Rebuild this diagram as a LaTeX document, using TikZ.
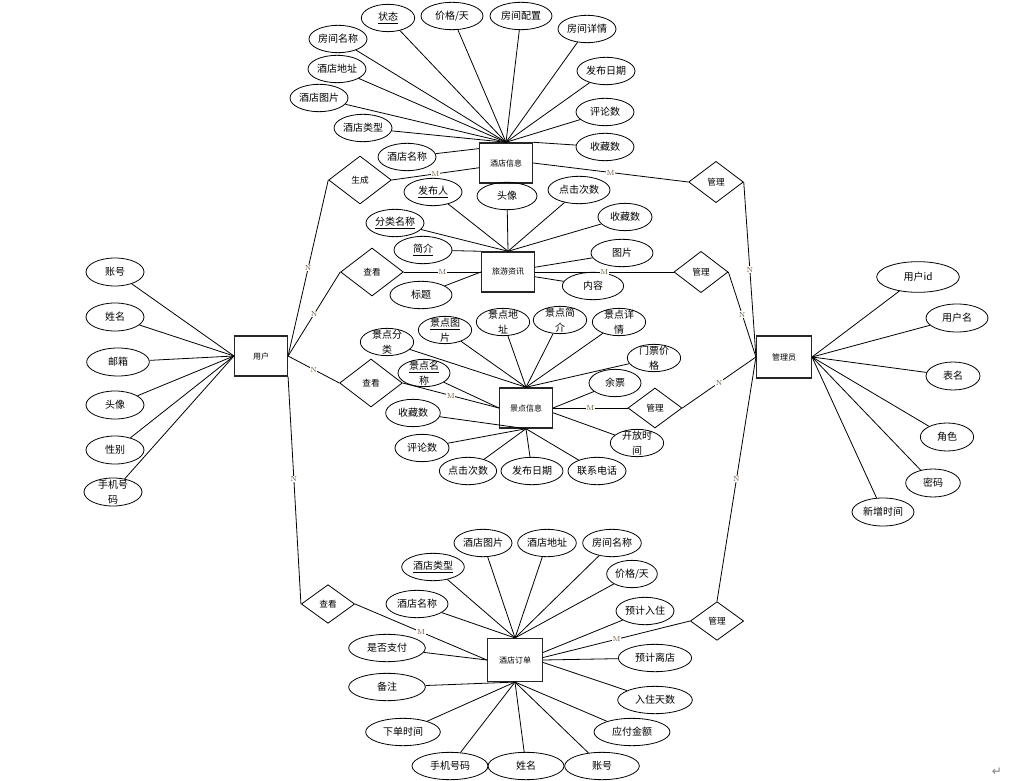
\documentclass[tikz,border=0pt]{standalone}
\usepackage{fontspec}
\newfontfamily\cjk{Noto Sans CJK SC}
\newfontfamily\djv{DejaVu Sans}
\usetikzlibrary{shapes.geometric}
\definecolor{cardc}{RGB}{110,85,55}
\tikzset{
  attr/.style={ellipse, draw, line width=0.6pt, minimum height=20.5pt, minimum width=43.5pt, inner sep=0pt, font=\cjk\fontsize{7.5}{9.5}\selectfont, align=center},
  two/.style={inner ysep=-4.5pt, font=\cjk\fontsize{7.5}{11.5}\selectfont},
  ent/.style={rectangle, draw=black!85, line width=1.1pt, minimum width=39.5pt, minimum height=30pt, inner sep=0pt, font=\cjk\fontsize{6}{7}\selectfont},
  rel/.style={diamond, draw, line width=0.6pt, minimum width=47pt, minimum height=36pt, inner sep=0pt, font=\cjk\fontsize{6.5}{7}\selectfont},
  link/.style={line width=0.6pt},
  card/.style={font=\fontsize{5.5}{6}\selectfont, text=cardc, fill=white, inner sep=0.4pt},
}
\begin{document}
\begin{tikzpicture}[x=0.75pt,y=-0.75pt]
\useasboundingbox (0,0) rectangle (1036,781);

% ---------- entities ----------
\node[ent] (hotel) at (506,163) {酒店信息};
\node[ent] (travel) at (508,272) {旅游资讯};
\node[ent] (spot) at (526,408) {景点信息};
\node[ent, minimum width=41pt, minimum height=32pt] (order) at (515,660) {酒店订单};
\node[ent] (user) at (261,356) {用户};
\node[ent, minimum width=41pt, minimum height=31.5pt] (admin) at (784,357) {管理员};

% ---------- relationships ----------
\node[rel] (gen) at (360,180) {生成};
\node[rel] (ck1) at (372,272) {查看};
\node[rel] (ck2) at (371,383) {查看};
\node[rel, minimum width=40pt, minimum height=29pt] (ck3) at (328,604) {查看};
\node[rel, minimum width=41pt, minimum height=31pt] (gl1) at (716,182) {管理};
\node[rel, minimum width=40.5pt, minimum height=31pt] (gl2) at (701,272) {管理};
\node[rel, minimum width=40.5pt, minimum height=30pt] (gl3) at (655,408) {管理};
\node[rel, minimum width=40pt, minimum height=29pt] (gl4) at (717,621) {管理};

% ---------- hotel attributes ----------
\node[attr, minimum width=40pt] (hzt) at (388,18) {\underline{状态}};
\node[attr, minimum width=46.5pt] (hjg) at (452,16) {价格/天};
\node[attr, minimum width=46.5pt] (hpz) at (521,16) {房间配置};
\node[attr] (hxq) at (587,29) {房间详情};
\node[attr] (hrq) at (606,71) {发布日期};
\node[attr] (hpl) at (605,112) {评论数};
\node[attr] (hsc) at (605,147) {收藏数};
\node[attr] (hmc) at (338,39) {房间名称};
\node[attr] (hdz) at (337,69) {酒店地址};
\node[attr] (htp) at (319,98) {酒店图片};
\node[attr] (hlx) at (363,128) {酒店类型};
\node[attr] (hnm) at (407,157) {酒店名称};

% ---------- travel attributes ----------
\node[attr] (tfb) at (433,192) {\underline{发布人}};
\node[attr, minimum width=45pt] (ttx) at (507,196) {头像};
\node[attr, minimum width=46.5pt] (tdj) at (579,190) {点击次数};
\node[attr, minimum width=40.5pt] (tsc) at (625,217) {收藏数};
\node[attr] (tfl) at (395,223) {\underline{分类名称}};
\node[attr] (tjj) at (423,250) {\underline{简介}};
\node[attr, minimum width=46.5pt] (tbt) at (421,295) {标题};
\node[attr, minimum width=46.5pt] (ttp) at (622,253) {图片};
\node[attr, minimum width=46pt] (tnr) at (593,286) {内容};

% ---------- spot attributes ----------
\node[attr, two, minimum width=40pt] (stp) at (445,330) {\underline{景点图}\\片};
\node[attr, two, minimum width=40pt] (sdz) at (503,322) {景点地\\址};
\node[attr, two, minimum width=40pt] (sjj) at (560,320) {景点简\\介};
\node[attr, two, minimum width=40pt] (sxq) at (619,322) {景点详\\情};
\node[attr, two, minimum width=40pt] (sjg) at (654,358) {门票价\\格};
\node[attr, minimum width=39pt] (syp) at (615,383) {余票};
\node[attr, two, minimum width=40pt] (skf) at (637,443) {开放时\\间};
\node[attr] (sdh) at (597,471) {联系电话};
\node[attr, minimum width=46.5pt] (srq) at (532,471) {发布日期};
\node[attr, minimum width=43pt] (sdj) at (468,471) {点击次数};
\node[attr, minimum width=40.5pt] (spl) at (422,448) {评论数};
\node[attr, minimum width=41pt] (ssc) at (413,413) {收藏数};
\node[attr, two, minimum width=40pt] (sfl) at (387,342) {景点分\\类};
\node[attr, two, minimum width=39pt] (smc) at (424,373) {\underline{景点名}\\称};

% ---------- order attributes ----------
\node[attr] (otp) at (483,543) {酒店图片};
\node[attr, minimum width=44pt] (odz) at (547,543) {酒店地址};
\node[attr, minimum width=44pt] (ofm) at (612,543) {房间名称};
\node[attr, minimum width=38pt] (ojg) at (632,574) {价格/天};
\node[attr] (orz) at (645,611) {预计入住};
\node[attr, minimum width=55pt] (old) at (655,658) {预计离店};
\node[attr, minimum width=56pt] (ots) at (655,700) {入住天数};
\node[attr, minimum width=57pt] (oje) at (632,732) {应付金额};
\node[attr, minimum width=56pt] (ozh) at (602,766) {账号};
\node[attr, minimum width=57pt] (oxm) at (526,766) {姓名};
\node[attr, minimum width=57pt] (osj) at (450,766) {手机号码};
\node[attr, minimum width=56pt] (oxd) at (403,732) {下单时间};
\node[attr, minimum width=57.5pt] (obz) at (387,687) {备注};
\node[attr, minimum width=57.5pt] (ozf) at (387,648) {是否支付};
\node[attr, minimum width=46.5pt] (onm) at (417,604) {酒店名称};
\node[attr, minimum width=47pt] (olx) at (433,567) {\underline{酒店类型}};

% ---------- user attributes ----------
\node[attr, minimum height=21pt] (uzh) at (115,272) {账号};
\node[attr, minimum height=21pt] (uxm) at (115,317) {姓名};
\node[attr, minimum height=21pt, minimum width=47pt] (uyx) at (118,362) {邮箱};
\node[attr, minimum height=21pt] (utx) at (115,405) {头像};
\node[attr, minimum height=21pt] (uxb) at (115,450) {性别};
\node[attr, two, minimum height=21pt] (usj) at (113,492) {手机号\\码};

% ---------- admin attributes ----------
\node[attr, minimum width=62pt, minimum height=23pt] (aid) at (918,277) {用户id};
\node[attr, minimum width=46.5pt, minimum height=21pt] (amc) at (957,318) {用户名};
\node[attr, minimum width=40.5pt, minimum height=21pt] (abm) at (953,376) {表名};
\node[attr, minimum width=40pt, minimum height=21pt] (ajs) at (947,437) {角色};
\node[attr, minimum width=41pt, minimum height=21pt] (amm) at (933,483) {密码};
\node[attr, minimum width=46.5pt, minimum height=21pt] (asj) at (883,512) {新增时间};

% ---------- attribute links ----------
\foreach \a in {hzt,hjg,hpz,hxq,hrq,hpl,hmc,hdz,htp,hlx} \draw[link] (hotel.north) -- (\a);
\draw[link] (hotel.north east) -- (hsc);
\draw[link] (hotel.152) -- (hnm);

\foreach \a in {tfb,ttx,tdj,tsc,tfl} \draw[link] (travel.north) -- (\a);
\draw[link] (travel.north west) -- (tjj);
\draw[link] (travel.west) -- (tbt);
\draw[link] (travel.10) -- (ttp);
\draw[link] (travel.350) -- (tnr);

\foreach \a in {stp,sdz,sjj,sxq,sjg,sfl} \draw[link] (spot.north) -- (\a);
\draw[link] (spot.west) -- (smc);
\draw[link] (spot.east) -- (syp);
\draw[link] (spot.350) -- (skf);
\foreach \a in {sdh,srq,sdj,spl,ssc} \draw[link] (spot.south) -- (\a);

\foreach \a in {otp,odz,ofm,ojg,onm,olx} \draw[link] (order.north) -- (\a);
\draw[link] (order.15) -- (orz);
\draw[link] (order.east) -- (old);
\draw[link] (order.355) -- (ots);
\foreach \a in {oje,ozh,oxm,osj,oxd,obz} \draw[link] (order.south) -- (\a);
\draw[link] (order.west) -- (ozf);

\foreach \a in {uzh,uxm,uyx,utx,uxb,usj} \draw[link] (user.west) -- (\a);
\foreach \a in {aid,amc,abm,ajs,amm,asj} \draw[link] (admin.east) -- (\a);

% ---------- relationship links ----------
\draw[link] (user.east) -- node[card] {N} (gen.west);
\draw[link] (user.east) -- node[card] {N} (ck1.west);
\draw[link] (user.east) -- node[card] {N} (ck2.west);
\draw[link] (user.south east) -- node[card, pos=0.45] {N} (ck3.west);

\draw[link] (gen.east) -- node[card] {M} (hotel.190);
\draw[link] (ck1.east) -- node[card] {M} (travel.west);
\draw[link] (ck2.east) -- node[card] {M} (spot.west);
\draw[link] (ck3.east) -- node[card] {M} (order.west);

\draw[link] (hotel.east) -- node[card] {M} (gl1.west);
\draw[link] (travel.east) -- node[card] {M} (gl2.west);
\draw[link] (spot.east) -- node[card] {M} (gl3.west);
\draw[link] (order.5) -- node[card] {M} (gl4.west);

\draw[link] (gl1.east) -- node[card] {N} (admin.west);
\draw[link] (gl2.east) -- node[card] {N} (admin.west);
\draw[link] (gl3.east) -- node[card] {N} (admin.west);
\draw[link] (gl4.north) -- node[card] {N} (admin.west);

\node[text=gray, font=\djv\fontsize{9}{9}\selectfont] (ret) at (997,772) {↵};
\end{tikzpicture}
\end{document}
